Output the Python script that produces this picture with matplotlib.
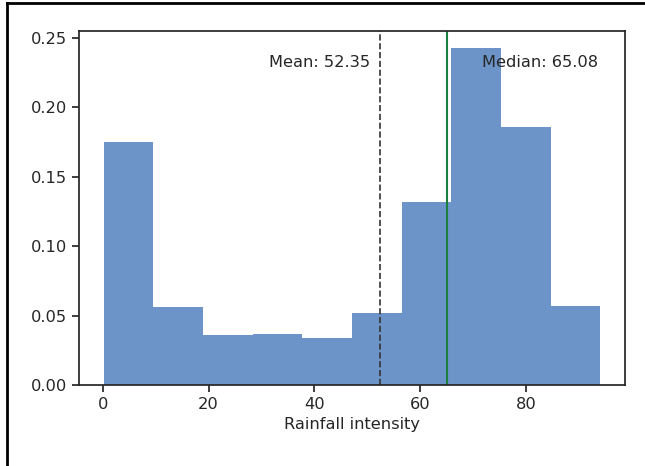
import matplotlib
matplotlib.use("Agg")
import matplotlib.pyplot as plt
from matplotlib.lines import Line2D
import numpy as np

# Bin edges and fraction of samples per bin
bin_edges = [0.2, 9.58, 18.96, 28.34, 37.72, 47.1, 56.48, 65.86, 75.24, 84.62, 94.0]
fractions = [0.1753, 0.0560, 0.0359, 0.0366, 0.0338, 0.0517, 0.1315, 0.2428, 0.1860, 0.0567]
mean_val = 52.35
median_val = 65.08

plt.rcParams["font.family"] = "DejaVu Sans"
plt.rcParams["text.color"] = "#262626"
plt.rcParams["xtick.color"] = "#262626"
plt.rcParams["ytick.color"] = "#262626"
plt.rcParams["axes.labelcolor"] = "#262626"

fs = 11.7

fig = plt.figure(figsize=(6.45, 4.66), dpi=100)
ax = fig.add_axes([79 / 645, 1 - 385 / 466, 546 / 645, 354 / 466])

centers = [(a + b) / 2 for a, b in zip(bin_edges[:-1], bin_edges[1:])]
ax.hist(centers, bins=bin_edges, weights=fractions, color="#6c94c8")

# Mean and median markers
ax.axvline(mean_val, color="#333333", linestyle="--", linewidth=1.2)
ax.axvline(median_val, color="#1b7f3f", linestyle="-", linewidth=1.5)
ax.text(mean_val - 1.8, 0.2325, f"Mean: {mean_val:.2f}", ha="right", va="center", fontsize=fs)
ax.text(median_val * 1.1, 0.2325, f"Median: {median_val:.2f}", ha="left", va="center", fontsize=fs)

ax.set_xlabel("Rainfall intensity", fontsize=fs, labelpad=4)
ax.set_yticks(np.arange(0, 0.26, 0.05))
ax.set_yticklabels([f"{v:.2f}" for v in np.arange(0, 0.26, 0.05)])
ax.tick_params(labelsize=fs, width=1.25, length=5)
for s in ax.spines.values():
    s.set_linewidth(1.25)
    s.set_color("#262626")

# figure frame (left and top edges visible)
fig.add_artist(Line2D([7 / 645, 7 / 645], [0, 1 - 3 / 466], color="black", linewidth=2, transform=fig.transFigure))
fig.add_artist(Line2D([7 / 645, 1], [1 - 3 / 466, 1 - 3 / 466], color="black", linewidth=2, transform=fig.transFigure))

fig.savefig("out.png", dpi=100)
